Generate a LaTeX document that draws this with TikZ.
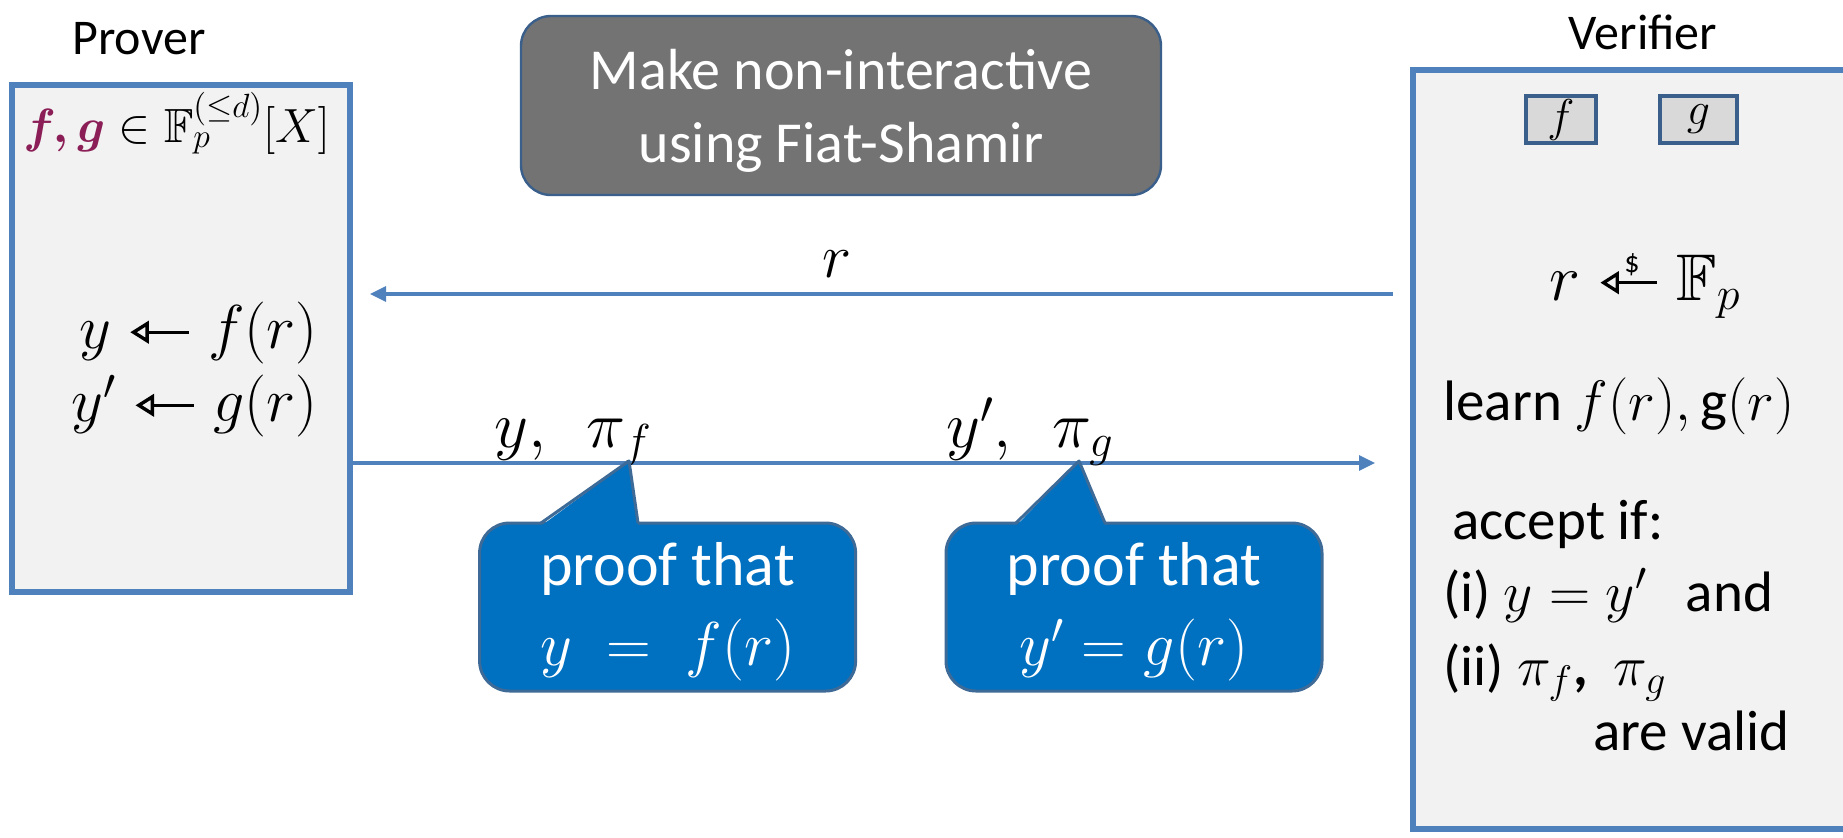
\RequirePackage{fix-cm}
\documentclass[tikz,border=0pt]{standalone}
\usepackage[no-math]{fontspec}
\setmainfont{Carlito}
\usepackage{amsmath,amssymb}
\usetikzlibrary{arrows.meta}
\definecolor{lineblue}{HTML}{4F81BD}
\definecolor{boxfill}{HTML}{F2F2F2}
\definecolor{darkbord}{HTML}{3A5F8B}
\definecolor{grayfill}{HTML}{737373}
\definecolor{cfill}{HTML}{0070C0}
\definecolor{cbord}{HTML}{3D6A96}
\definecolor{maroonc}{HTML}{8B1E56}
\definecolor{fgfill}{HTML}{D9D9D9}
\newcommand{\oleft}{\mathrel{\tikz[baseline=-0.55ex]\draw[line width=0.055em,{Triangle[open,length=0.3em,width=0.36em,line width=0.055em]}-] (0,0)--(0.95em,0);}}
\newcommand{\sleft}{\mathrel{\tikz[baseline=-0.55ex]{\draw[line width=0.05em,{Triangle[open,length=0.28em,width=0.34em,line width=0.05em]}-] (0,0)--(0.85em,0);
  \node[inner sep=0pt, anchor=south, font=\fontsize{15}{15}\selectfont] at (0.48em,0.1em) {\$};}}}
\tikzset{
  partybox/.style={draw=lineblue, fill=boxfill, line width=3pt, inner sep=0pt},
  lab/.style={font=\fontsize{25}{30}\selectfont, inner sep=0pt},
  graybox/.style={draw=darkbord, fill=grayfill, line width=1.2pt, rounded corners=15pt, inner sep=0pt,
    text=white, align=center, font=\fontsize{29}{36.5}\selectfont},
  callbox/.style={draw=cbord, fill=cfill, line width=1.5pt, rounded corners=15pt, inner sep=0pt,
    minimum width=188pt, minimum height=84pt},
  calltext/.style={text=white, align=center, font=\fontsize{31}{40}\selectfont, inner sep=0pt},
  arr/.style={draw=lineblue, line width=1.6pt, -{Triangle[length=8pt,width=7.5pt]}},
  fgbox/.style={draw=darkbord, fill=fgfill, line width=2.2pt, inner sep=0pt, minimum height=23.5pt,
    font=\fontsize{23}{26}\selectfont},
  vtext/.style={font=\fontsize{28.5}{34}\selectfont, inner sep=0pt},
  mtext/.style={font=\fontsize{31}{36}\selectfont, inner sep=0pt}
}
\begin{document}
\begin{tikzpicture}[x=0.5pt,y=-0.5pt]
\useasboundingbox (0,0) rectangle (1843,837);
\clip (0,0) rectangle (1843,837);

% parties
\node[lab] (provlabel) at (139,39) {Prover};
\node[lab] (verlabel) at (1643,32) {Verifier};
\node[partybox, minimum width=169pt, minimum height=253.5pt] (P) at (181,338.5) {};
\node[partybox, minimum width=243.5pt, minimum height=379.5pt] (V) at (1656.5,449.5) {};

% Fiat-Shamir box
\node[graybox, minimum width=320pt, minimum height=89.5pt] (fs) at (841,105.5) {};
\node[graybox, draw=none, fill=none] (fstext) at (841,111) {Make non-interactive\\using Fiat-Shamir};

% prover content
\node[anchor=west, inner sep=0pt, font=\fontsize{24}{28}\selectfont] (fg) at (23,123)
  {$\textcolor{maroonc}{\boldsymbol{f,g}} \in \mathbb{F}_p^{(\le d)}[X]$};
\node[mtext, anchor=east] (yf) at (318,333) {$y \oleft f(r)$};
\node[mtext, anchor=east] (yg) at (318,406) {$y' \oleft g(r)$};

% verifier content
\node[fgbox, minimum width=35pt] (fbox) at (1561,119.5) {$f$};
\node[fgbox, minimum width=38.5pt] (gbox) at (1698.5,119.5) {$g$};
\node[vtext, anchor=base, font=\fontsize{33}{36}\selectfont] (samp) at (1645,300) {$r \sleft \mathbb{F}_p$};
\node[vtext, anchor=west] (learn) at (1443,406) {learn $f(r),\,$g$(r)$};
\node[vtext, anchor=base west] (acc) at (1452,539) {accept if:};
\node[vtext, anchor=base west] (c1t) at (1443,611) {(i) $y = y'$\ \ \ and};
\node[vtext, anchor=base west] (c2t) at (1443,685) {(ii) $\pi_f$\textbf{,}\ \ $\pi_g$};
\node[vtext, anchor=base west] (c3t) at (1593,750) {are valid};

% challenge arrow
\coordinate (rstart) at (1393,294);
\coordinate (rend) at (370,294);
\draw[arr] (rstart) -- (rend);
\node[mtext] (rlab) at (837,264) {$r$};

% response arrow
\coordinate (aend) at (1375,463);
\draw[arr] (P.east |- aend) -- (aend);
\node[mtext, anchor=base west, font=\fontsize{33}{36}\selectfont] (l1) at (494,447) {$y,\ \ \pi_f$};
\node[mtext, anchor=base west, font=\fontsize{33}{36}\selectfont] (l2) at (946,447) {$y',\ \ \pi_g$};

% callout 1
\node[callbox] (cb1) at (667.6,607) {};
\fill[cfill] (541,526) -- (629,461) -- (638,526) -- cycle;
\draw[cbord, line width=1.5pt, line join=round] (541,523) -- (629,461) -- (638,523);
\node[calltext] (ct1) at (667.6,612) {proof that\\$y\;=\;f(r)$};

% callout 2
\node[callbox] (cb2) at (1134,607) {};
\fill[cfill] (1016,526) -- (1079,461) -- (1105,526) -- cycle;
\draw[cbord, line width=1.5pt, line join=round] (1016,523) -- (1079,461) -- (1105,523);
\node[calltext] (ct2) at (1134,612) {proof that\\$y' = g(r)$};
\end{tikzpicture}
\end{document}
